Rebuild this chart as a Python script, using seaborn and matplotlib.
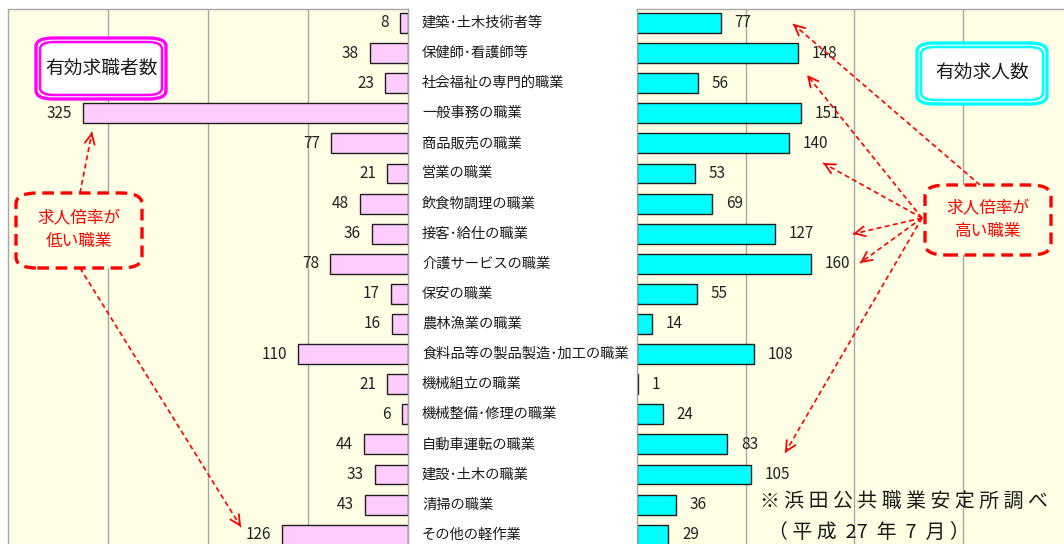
import matplotlib
matplotlib.use("Agg")
import matplotlib.pyplot as plt
import seaborn as sns
import pandas as pd
from matplotlib.patches import FancyBboxPatch, FancyArrowPatch
from matplotlib.lines import Line2D
import matplotlib.transforms as mtransforms

# ---------------- data ----------------
categories = [
    "建築･土木技術者等", "保健師･看護師等", "社会福祉の専門的職業", "一般事務の職業",
    "商品販売の職業", "営業の職業", "飲食物調理の職業", "接客･給仕の職業",
    "介護サービスの職業", "保安の職業", "農林漁業の職業", "食料品等の製品製造･加工の職業",
    "機械組立の職業", "機械整備･修理の職業", "自動車運転の職業", "建設･土木の職業",
    "清掃の職業", "その他の軽作業",
]
job_seekers = [8, 38, 23, 325, 77, 21, 48, 36, 78, 17, 16, 110, 21, 6, 44, 33, 43, 126]
job_openings = [77, 148, 56, 151, 140, 53, 69, 127, 160, 55, 14, 108, 1, 24, 83, 105, 36, 29]
grid_ticks = [100, 200, 300]

seekers_title = "有効求職者数"
openings_title = "有効求人数"
low_note = "求人倍率が\n低い職業"
high_note = "求人倍率が\n高い職業"
source_line1 = "※ 浜 田 公 共 職 業 安 定 所 調 べ"
source_line2 = "（ 平 成  27  年  7  月 ）"

df_left = pd.DataFrame({"cat": categories, "val": job_seekers})
df_right = pd.DataFrame({"cat": categories, "val": job_openings})

# ---------------- style ----------------
sns.set_style("white")
plt.rcParams["font.family"] = ["Noto Sans CJK JP", "DejaVu Sans"]

W, H = 1064, 544
fig = plt.figure(figsize=(W / 100, H / 100), dpi=100)
fig.patch.set_facecolor("white")


def fx(x):
    return x / W


def fy(y):
    return 1 - y / H


bg = "#FFFFE6"
grid_c = "#A6A6A6"
edge_c = "#1E1E1E"

ax_l = fig.add_axes([fx(8), 0, 400 / W, (H - 9) / H])
ax_r = fig.add_axes([fx(637), 0, (W - 637) / W, (H - 9) / H])

sns.barplot(data=df_left, x="val", y="cat", ax=ax_l, color="#FFCCFF",
            edgecolor=edge_c, linewidth=1.0, width=0.66, saturation=1)
sns.barplot(data=df_right, x="val", y="cat", ax=ax_r, color="#00FFFF",
            edgecolor=edge_c, linewidth=1.0, width=0.66, saturation=1)

ylim = (17.31, -0.465)
ax_l.set_xlim(400, 0)
ax_r.set_xlim(0, (W - 637) / 1.085)
for ax in (ax_l, ax_r):
    ax.set_ylim(*ylim)
    ax.set_facecolor(bg)
    ax.set_xlabel("")
    ax.set_ylabel("")
    ax.set_xticks(grid_ticks)
    ax.set_yticks([])
    ax.tick_params(axis="x", length=0, labelbottom=False)
    ax.grid(axis="x", color=grid_c, linewidth=1.0)
    ax.set_axisbelow(True)
    for s in ax.spines.values():
        s.set_color(grid_c)
        s.set_linewidth(1.0)
    ax.spines["bottom"].set_visible(False)

ax_r.spines["right"].set_visible(False)

ax_l.bar_label(ax_l.containers[0], padding=8, fontsize=11, color="#222222")
ax_r.bar_label(ax_r.containers[0], padding=10, fontsize=11, color="#222222")

# centre category labels
trans = mtransforms.blended_transform_factory(fig.transFigure, ax_l.transData)
for i, c in enumerate(categories):
    fig.text(fx(422), i, c, transform=trans, ha="left", va="center",
             fontsize=10.3, color="#1A1A1A")

# ---------------- annotation boxes ----------------
def double_box(x0, y0, x1, y1, color, text):
    outer = FancyBboxPatch((fx(x0), fy(y1)), fx(x1 - x0), (y1 - y0) / H,
                           boxstyle="round,pad=0,rounding_size=0.016",
                           transform=fig.transFigure, facecolor="white",
                           edgecolor=color, linewidth=2.4, zorder=5)
    fig.add_artist(outer)
    g = 4
    inner = FancyBboxPatch((fx(x0 + g), fy(y1 - g)), fx(x1 - x0 - 2 * g),
                           (y1 - y0 - 2 * g) / H,
                           boxstyle="round,pad=0,rounding_size=0.013",
                           transform=fig.transFigure, facecolor="white",
                           edgecolor=color, linewidth=1.8, zorder=6)
    fig.add_artist(inner)
    fig.text(fx((x0 + x1) / 2), fy((y0 + y1) / 2), text, ha="center", va="center",
             fontsize=13.5, color="#1A1A1A", zorder=7)


double_box(36, 38, 166, 99, "#FF00FF", seekers_title)
double_box(917, 43, 1047, 104, "#00FFFF", openings_title)


def dashed_box(x0, y0, x1, y1, text):
    box = FancyBboxPatch((fx(x0), fy(y1)), fx(x1 - x0), (y1 - y0) / H,
                         boxstyle="round,pad=0,rounding_size=0.02",
                         transform=fig.transFigure, facecolor=bg,
                         edgecolor="#FF0000", linewidth=2.4,
                         linestyle=(0, (3.5, 2)), zorder=5)
    fig.add_artist(box)
    fig.text(fx((x0 + x1) / 2), fy((y0 + y1) / 2), text, ha="center", va="center",
             fontsize=12, color="#FF0000", linespacing=1.45, zorder=7)


dashed_box(16, 193, 142, 268, low_note)
dashed_box(925, 185, 1051, 255, high_note)


def red_arrow(x0, y0, x1, y1):
    line = Line2D([fx(x0), fx(x1)], [fy(y0), fy(y1)], transform=fig.transFigure,
                  color="#FF0000", linewidth=1.2, linestyle=(0, (3, 2)), zorder=4)
    fig.add_artist(line)
    dx, dy = x1 - x0, y1 - y0
    n = (dx ** 2 + dy ** 2) ** 0.5
    sx, sy = x1 - dx / n * 4, y1 - dy / n * 4
    head = FancyArrowPatch((fx(sx), fy(sy)), (fx(x1), fy(y1)),
                           transform=fig.transFigure, arrowstyle="->",
                           mutation_scale=18, color="#FF0000", linewidth=1.3,
                           shrinkA=0, shrinkB=0, zorder=4)
    fig.add_artist(head)


red_arrow(80, 193, 92, 132)
red_arrow(80, 268, 241, 527)
red_arrow(980, 185, 793, 24)
red_arrow(922, 218, 807, 75)
red_arrow(922, 218, 823, 163)
red_arrow(922, 218, 853, 234)
red_arrow(922, 218, 860, 263)
red_arrow(922, 218, 785, 453)

# source note
fig.text(fx(760), fy(502), source_line1, ha="left", va="center",
         fontsize=14.3, color="#1A1A1A")
fig.text(fx(768), fy(532), source_line2, ha="left", va="center",
         fontsize=14.3, color="#1A1A1A")

fig.savefig("out.png", dpi=100, facecolor="white")
